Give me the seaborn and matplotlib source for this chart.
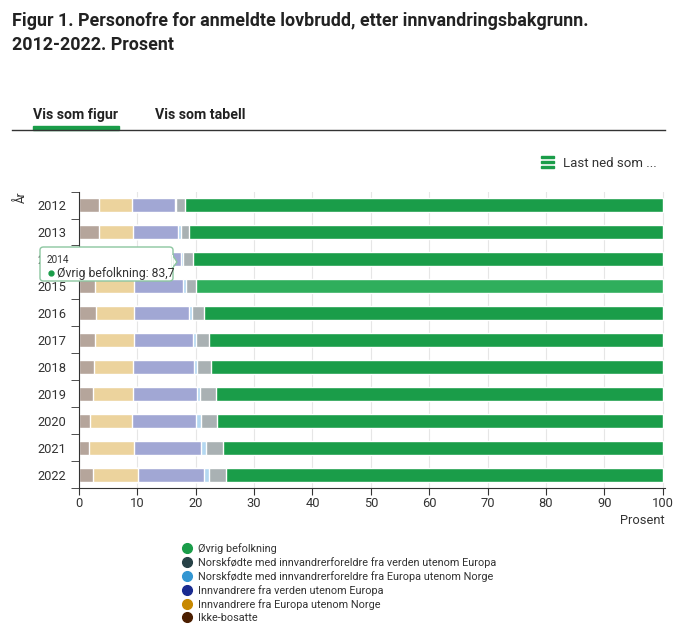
import numpy as np
import pandas as pd
import matplotlib
matplotlib.use("Agg")
import matplotlib.pyplot as plt
import seaborn as sns
from matplotlib.lines import Line2D
from matplotlib.patches import Rectangle, Polygon, FancyBboxPatch

# Data (prosent)
years = ["2012", "2013", "2014", "2015", "2016", "2017",
         "2018", "2019", "2020", "2021", "2022"]
ikke_bosatte = [3.4, 3.5, 3.0, 2.8, 2.9, 2.7, 2.6, 2.4, 1.9, 1.7, 2.4]
innv_europa = [5.6, 5.7, 6.0, 6.6, 6.6, 6.8, 6.6, 6.8, 7.2, 7.7, 7.7]
innv_verden = [7.4, 7.8, 8.4, 8.4, 9.3, 10.0, 10.5, 11.0, 10.9, 11.5, 11.3]
norsk_europa = [0.3, 0.4, 0.5, 0.6, 0.5, 0.5, 0.6, 0.6, 0.9, 0.8, 0.8]
norsk_verden = [1.4, 1.4, 1.6, 1.6, 2.1, 2.2, 2.4, 2.7, 2.8, 2.9, 3.0]
ovrig = [81.9, 81.2, 80.5, 80.0, 78.6, 77.8, 77.3, 76.5, 76.3, 75.4, 74.8]

series = ["Ikke-bosatte", "Innvandrere fra Europa utenom Norge",
          "Innvandrere fra verden utenom Europa",
          "Norskfødte med innvandrerforeldre fra Europa utenom Norge",
          "Norskfødte med innvandrerforeldre fra verden utenom Europa",
          "Øvrig befolkning"]
values = [ikke_bosatte, innv_europa, innv_verden, norsk_europa, norsk_verden, ovrig]

full_colors = ["#4b1e00", "#c78800", "#1a2b90", "#3396d2", "#274247", "#1a9d49"]
# other series are faded (hover state on Øvrig befolkning)
bar_colors = ["#b5a59b", "#ecd39d", "#a1a7d4", "#b4d8f1", "#a9b1b3", "#1a9d49"]

df = pd.DataFrame(dict(zip(series, values)), index=years)
cum = df.cumsum(axis=1)

W, H = 678, 625
plt.rcParams["font.family"] = ["Roboto", "DejaVu Sans"]
fig = plt.figure(figsize=(W / 100, H / 100), dpi=100)
ax = fig.add_axes([79 / W, 1 - 488 / H, 586 / W, (488 - 191.6) / H])


def px(x, y):
    return x / W, 1 - y / H


# stacked bars: draw cumulative totals from the widest down
for i in range(len(series) - 1, -1, -1):
    d = pd.DataFrame({"year": years, "val": cum[series[i]].values})
    sns.barplot(data=d, x="val", y="year", orient="h", color=bar_colors[i],
                width=0.52, edgecolor="white", linewidth=1, ax=ax,
                saturation=1)
    if i == len(series) - 1:
        # hovered bar (2015) drawn a bit lighter
        ax.patches[years.index("2015")].set_facecolor("#2fae5c")

ax.set_xlim(0, 100.4)
ax.set_ylim(10.5, -0.5)
ax.set_xticks(range(0, 101, 10))
ax.set_xlabel("")
ax.set_ylabel("")
ax.set_axisbelow(True)
ax.grid(axis="x", color="#e6e6e6", linewidth=0.8)
ax.grid(axis="y", visible=False)
for s in ["top", "right"]:
    ax.spines[s].set_visible(False)
ax.spines["left"].set_color("#333333")
ax.spines["bottom"].set_color("#333333")
ax.tick_params(axis="x", length=5, color="#333333", labelcolor="#333333",
               labelsize=9.3, pad=1.5)
ax.tick_params(axis="y", which="major", length=0, labelcolor="#333333",
               labelsize=9.3, pad=9)
ax.set_yticks(np.arange(-0.5, 11, 1), minor=True)
ax.tick_params(axis="y", which="minor", length=5.8, color="#333333")

# title
fig.text(*px(12, 12), "Figur 1. Personofre for anmeldte lovbrudd, etter innvandringsbakgrunn.\n2012-2022. Prosent",
         fontsize=12.9, fontweight="bold", color="#222222", va="top", ha="left",
         linespacing=1.4)

# tabs
fig.text(*px(33, 119), "Vis som figur", fontsize=10.2, fontweight="bold",
         color="#222222", va="baseline")
fig.text(*px(155, 119), "Vis som tabell", fontsize=10.2, fontweight="bold",
         color="#222222", va="baseline")
fig.add_artist(Line2D([12 / W, 665 / W], [1 - 130 / H] * 2, color="#333333",
                      linewidth=1))
fig.add_artist(Rectangle(px(33, 130), 86 / W, 4 / H, color="#1a9d49"))

# download button
for yy in [157, 162, 167]:
    fig.add_artist(Rectangle(px(541, yy + 1.3), 13 / W, 2.6 / H, color="#1a9d49"))
fig.text(*px(563, 167), "Last ned som ...", fontsize=9.5, color="#333333",
         va="baseline")

# axis titles
fig.text(*px(15, 191), "År", fontsize=8.5, color="#333333", rotation=90,
         va="top", ha="left")
fig.text(*px(665, 524), "Prosent", fontsize=9.3, color="#333333", ha="right",
         va="baseline")

# legend
handles = [Line2D([], [], marker="o", linestyle="", markersize=7,
                  color=full_colors[i]) for i in range(len(series) - 1, -1, -1)]
labels = [series[i] for i in range(len(series) - 1, -1, -1)]
fig.legend(handles, labels, loc="upper left", bbox_to_anchor=px(178, 543),
           frameon=False, fontsize=7.8, labelspacing=0.28, handletextpad=0.25,
           handlelength=1.6, borderaxespad=0, borderpad=0, labelcolor="#333333")

# tooltip
fig.add_artist(FancyBboxPatch(px(40, 281), 133 / W, 34 / H,
                              boxstyle="round,pad=0,rounding_size=0.005",
                              facecolor="white", edgecolor="#8cc6a0",
                              linewidth=1, zorder=5))
fig.add_artist(Polygon([px(172.5, 255), px(177, 262), px(172.5, 268)],
                       closed=True, facecolor="white", edgecolor="#8cc6a0",
                       linewidth=1, zorder=6))
fig.add_artist(Rectangle(px(171.5, 267.5), 1.8 / W, 12 / H, facecolor="white",
                         edgecolor="none", zorder=7))
fig.text(*px(47, 260), "2014", fontsize=7.2, color="#333333", zorder=8,
         va="center")
fig.add_artist(Line2D([51 / W], [1 - 273 / H], marker="o", markersize=3.5,
                      color="#1a9d49", zorder=8))
fig.text(*px(57, 273), "Øvrig befolkning: 83,7", fontsize=8.8,
         color="#333333", zorder=8, va="center")

fig.savefig("out.png", dpi=100)
